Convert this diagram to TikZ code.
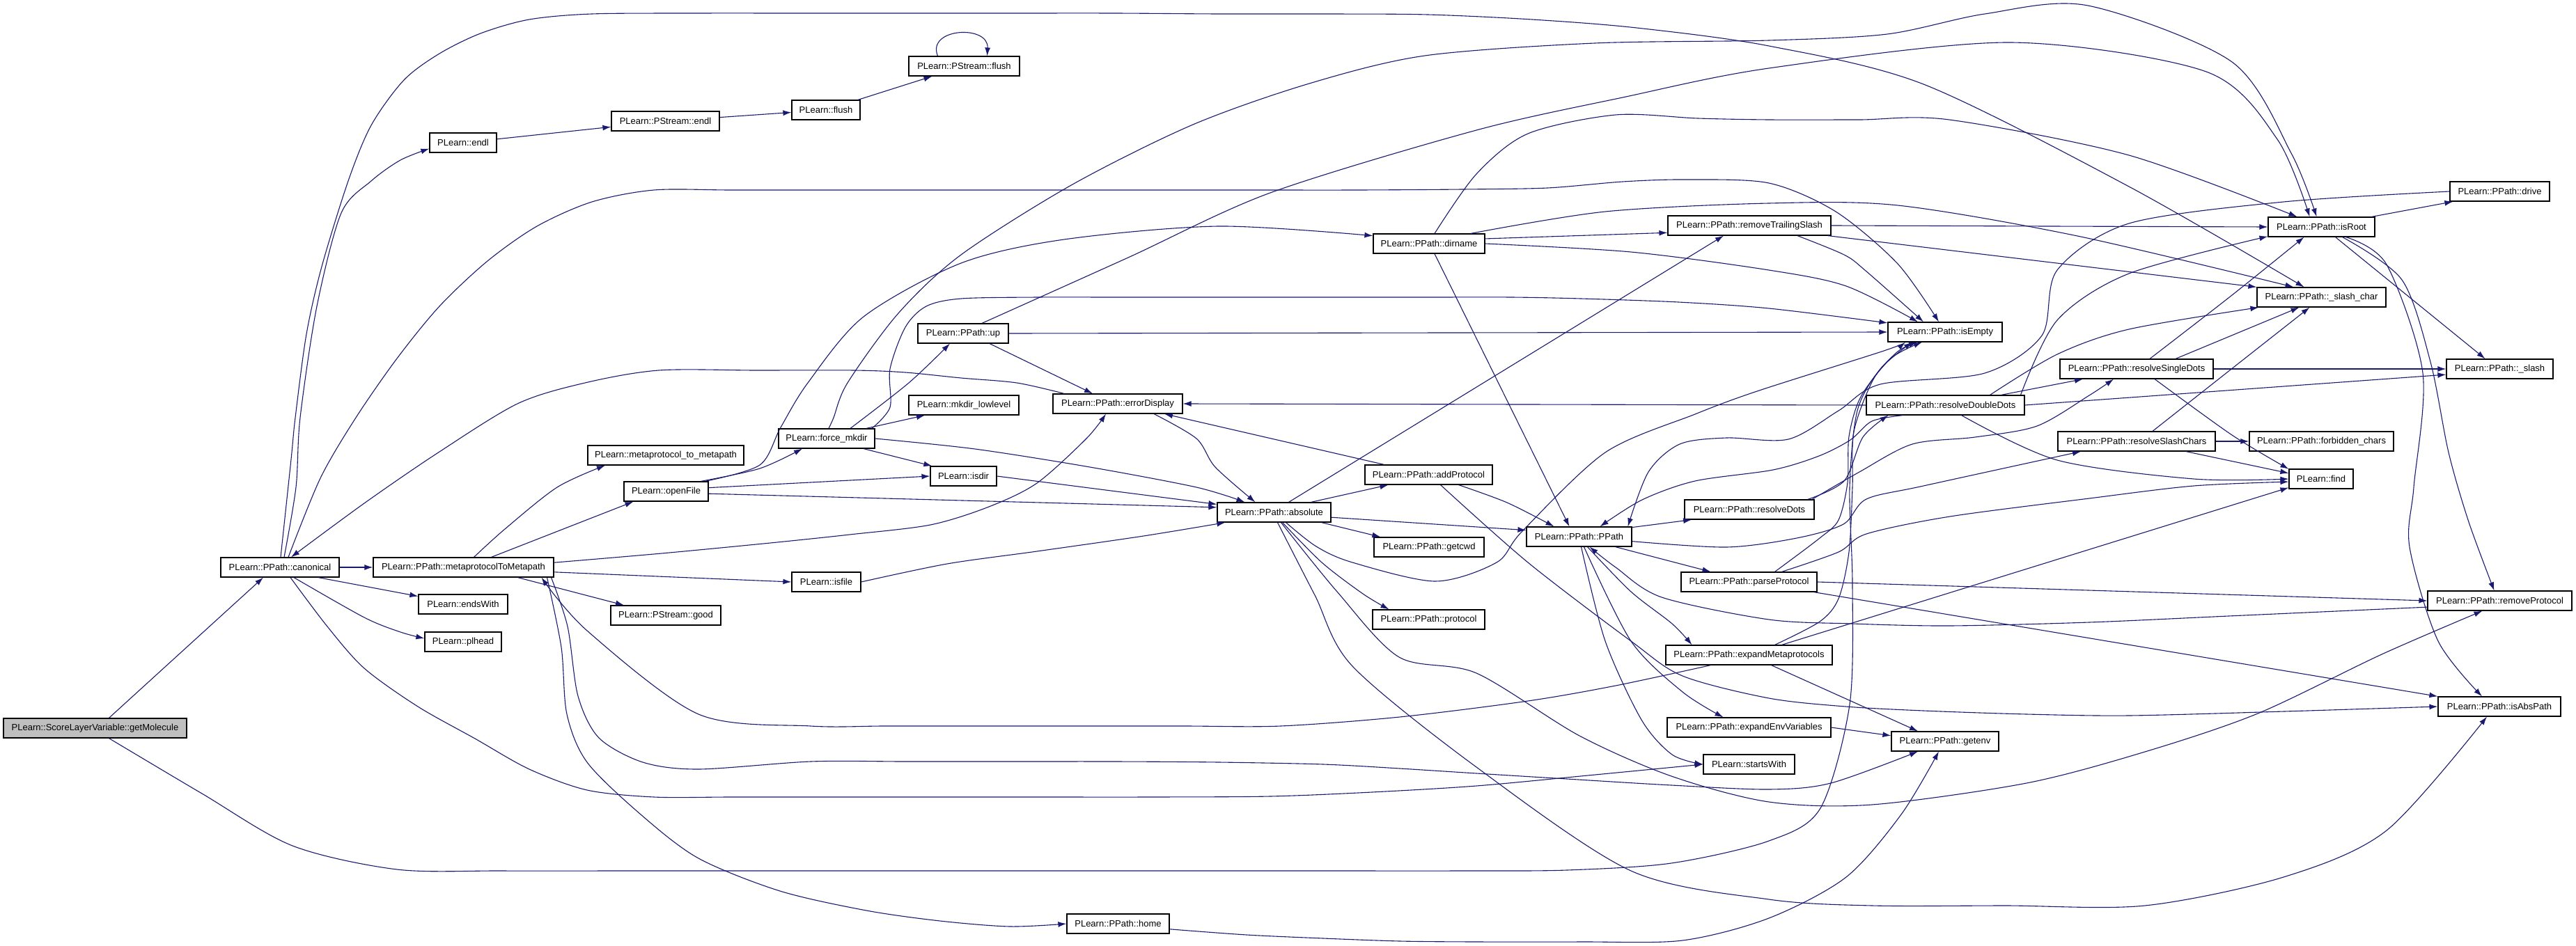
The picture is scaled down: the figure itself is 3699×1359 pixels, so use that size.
\documentclass[tikz,border=0pt]{standalone}
\usepackage{fontspec}
\setmainfont{Liberation Sans}
\usetikzlibrary{arrows.meta}
\definecolor{callblue}{HTML}{191970}

\begin{document}
\begin{tikzpicture}[x=1pt, y=-1pt,
  fn/.style={draw=black, line width=1.2pt, fill=white, minimum height=28pt, inner sep=0pt, font=\fontsize{13}{15}\selectfont},
  rootfn/.style={fn, fill=black!25},
  call/.style={draw=callblue, line width=1.1pt, -{Latex[length=12pt,width=8pt]}}]
\useasboundingbox (0,0) rectangle (3699,1359);

% functions, one column per call depth
\node[rootfn, minimum width=263] (getMolecule) at (136.5,1046) {PLearn::ScoreLayerVariable::getMolecule};
\node[fn, minimum width=170] (canonical) at (402,815) {PLearn::PPath::canonical};
\node[fn, minimum width=259] (metaToMeta) at (665.5,815) {PLearn::PPath::metaprotocolToMetapath};
\node[fn, minimum width=128] (endsWith) at (665,868) {PLearn::endsWith};
\node[fn, minimum width=110] (plhead) at (665,922) {PLearn::plhead};
\node[fn, minimum width=96] (endlFn) at (665,205) {PLearn::endl};
\node[fn, minimum width=155] (streamEndl) at (955.5,174) {PLearn::PStream::endl};
\node[fn, minimum width=98] (flushFn) at (1186,158) {PLearn::flush};
\node[fn, minimum width=159] (streamFlush) at (1384.5,95) {PLearn::PStream::flush};
\node[fn, minimum width=224] (metaMap) at (956,654) {PLearn::metaprotocol\_to\_metapath};
\node[fn, minimum width=121] (openFile) at (956.5,706) {PLearn::openFile};
\node[fn, minimum width=158] (streamGood) at (956,884) {PLearn::PStream::good};
\node[fn, minimum width=138] (forceMkdir) at (1187,630) {PLearn::force\_mkdir};
\node[fn, minimum width=99] (isfile) at (1186.5,836) {PLearn::isfile};
\node[fn, minimum width=147] (home) at (1605.5,1327) {PLearn::PPath::home};
\node[fn, minimum width=158] (mkdirLow) at (1384,582) {PLearn::mkdir\_lowlevel};
\node[fn, minimum width=95] (isdir) at (1383.5,684) {PLearn::isdir};
\node[fn, minimum width=130] (up) at (1383,479) {PLearn::PPath::up};
\node[fn, minimum width=186] (errorDisplay) at (1605,580) {PLearn::PPath::errorDisplay};
\node[fn, minimum width=163] (absolute) at (1829.5,736) {PLearn::PPath::absolute};
\node[fn, minimum width=160] (dirname) at (2052,350) {PLearn::PPath::dirname};
\node[fn, minimum width=183] (addProtocol) at (2051.5,682) {PLearn::PPath::addProtocol};
\node[fn, minimum width=158] (getcwd) at (2052,786) {PLearn::PPath::getcwd};
\node[fn, minimum width=161] (protocol) at (2051.5,890) {PLearn::PPath::protocol};
\node[fn, minimum width=151] (ppath) at (2267.5,771) {PLearn::PPath::PPath};
\node[fn, minimum width=234] (removeTrailing) at (2512,324) {PLearn::PPath::removeTrailingSlash};
\node[fn, minimum width=186] (resolveDots) at (2512,732) {PLearn::PPath::resolveDots};
\node[fn, minimum width=195] (parseProtocol) at (2511.5,836) {PLearn::PPath::parseProtocol};
\node[fn, minimum width=239] (expandMeta) at (2511.5,941) {PLearn::PPath::expandMetaprotocols};
\node[fn, minimum width=235] (expandEnv) at (2511.5,1045) {PLearn::PPath::expandEnvVariables};
\node[fn, minimum width=131] (startsWith) at (2511.5,1098) {PLearn::startsWith};
\node[fn, minimum width=164] (isEmpty) at (2793,477) {PLearn::PPath::isEmpty};
\node[fn, minimum width=227] (resolveDouble) at (2793.5,582) {PLearn::PPath::resolveDoubleDots};
\node[fn, minimum width=154] (getenv) at (2793,1065) {PLearn::PPath::getenv};
\node[fn, minimum width=153] (isRoot) at (3333.5,326) {PLearn::PPath::isRoot};
\node[fn, minimum width=185] (slashChar) at (3333.5,427) {PLearn::PPath::\_slash\_char};
\node[fn, minimum width=220] (resolveSingle) at (3068,530) {PLearn::PPath::resolveSingleDots};
\node[fn, minimum width=226] (resolveSlash) at (3068,634) {PLearn::PPath::resolveSlashChars};
\node[fn, minimum width=207] (forbidden) at (3333.5,634) {PLearn::PPath::forbidden\_chars};
\node[fn, minimum width=92] (find) at (3333,688) {PLearn::find};
\node[fn, minimum width=143] (drive) at (3589.5,275) {PLearn::PPath::drive};
\node[fn, minimum width=153] (slash) at (3589.5,530) {PLearn::PPath::\_slash};
\node[fn, minimum width=207] (removeProtocol) at (3589.5,863) {PLearn::PPath::removeProtocol};
\node[fn, minimum width=176] (isAbsPath) at (3589,1015) {PLearn::PPath::isAbsPath};

% getMolecule
\draw[call] ([xshift=20]getMolecule.north) -- ([xshift=-24]canonical.south);
\draw[call] plot[smooth] coordinates {([xshift=20]getMolecule.south) (290,1140) (420,1215) (570,1249) (720,1251) (900,1251) (1100,1251) (1300,1251) (1500,1251) (1700,1251) (1900,1251) (2100,1251) (2250,1250) (2400,1240) (2540,1208) (2614,1161) (2656,1012) (2660,840) (2656,700) (2667,590) (2700,530) ([xshift=-47]isEmpty.south)};

% canonical
\draw[call] (canonical) -- (metaToMeta);
\draw[call] ([xshift=55]canonical.south) -- (endsWith.170);
\draw[call] plot[smooth] coordinates {([xshift=20]canonical.south) (523,887) (575,908) (plhead.175)};
\draw[call] plot[smooth] coordinates {([xshift=6]canonical.north) (425,700) (431,600) (455,440) (490,306) (533,260) (575,230) (endlFn.190)};
\draw[call] plot[smooth] coordinates {([xshift=1]canonical.north) (418,660) (424,600) (440,480) (462,383) (500,260) (533,180) (580,115) (631,77) (690,48) (760,28) (850,20) (1000,19) (1150,19) (1300,19) (1450,19) (1600,19) (1750,20) (1900,20) (2050,21) (2200,28) (2350,40) (2540,66) (2762,121) (3057,268) ([xshift=-25]slashChar.north)};
\draw[call] plot[smooth] coordinates {([xshift=12]canonical.north) (460,687) (511,600) (570,515) (631,440) (700,375) (771,325) (850,290) (939,273) (1050,273) (1200,273) (1350,273) (1500,273) (1650,273) (1800,273) (1950,273) (2100,272) (2222,270) (2330,261) (2420,258) (2540,263) (2636,304) (2725,379) ([xshift=-9]isEmpty.north)};
\draw[call] plot[smooth] coordinates {([xshift=15]canonical.south) (470,900) (523,960) (600,1015) (682,1061) (760,1105) (843,1135) (939,1145) (1050,1145) (1200,1145) (1350,1145) (1500,1145) (1650,1145) (1824,1144) (1970,1138) (2120,1129) (2280,1114) (startsWith.west)};
\draw[call] plot[smooth] coordinates {([xshift=-77]errorDisplay.north) (1460,550) (1380,543) (1300,535) (1227,532) (1087,532) (946,532) (840,550) (743,580) (628,651) (523,723) ([xshift=16]canonical.north)};

% stream output
\draw[call] (endlFn) -- (streamEndl);
\draw[call] (streamEndl) -- (flushFn);
\draw[call] (flushFn) -- (streamFlush);
\draw[call] ([xshift=-38]streamFlush.north) .. controls (1330,40) and (1420,35) .. ([xshift=33]streamFlush.north);

% metaprotocolToMetapath
\draw[call] plot[smooth] coordinates {([xshift=15]metaToMeta.north) (725,760) (800,700) ([xshift=-87]metaMap.south)};
\draw[call] ([xshift=40]metaToMeta.north) -- ([xshift=-47]openFile.south);
\draw[call] (metaToMeta.-3) -- (isfile.west);
\draw[call] ([xshift=78]metaToMeta.south) -- ([xshift=-60]streamGood.north);
\draw[call] plot[smooth] coordinates {(metaToMeta.3) (950,795) (1106,780) (1220,768) (1336,754) (1420,728) (1489,694) (1560,630) ([xshift=-17]errorDisplay.south)};
\draw[call] plot[smooth] coordinates {([xshift=120]metaToMeta.south) (806,930) (814,1026) (843,1095) (920,1170) (1003,1233) (1120,1280) (1244,1308) (1350,1323) (1450,1331) (home.west)};
\draw[call] plot[smooth] coordinates {([xshift=126]metaToMeta.south) (815,900) (830,1000) (860,1060) (923,1095) (1003,1105) (1164,1094) (1300,1094) (1450,1094) (1600,1094) (1750,1095) (1900,1098) (2010,1104) (2120,1111) (2250,1119) (2400,1128) (2540,1134) (2629,1125) ([xshift=-39]getenv.south)};
\draw[call] plot[smooth] coordinates {([xshift=-55]expandMeta.south) (2320,985) (2194,1007) (2010,1030) (1839,1043) (1700,1043) (1550,1043) (1400,1043) (1270,1043) (1164,1043) (1003,1026) (843,906) ([xshift=112]metaToMeta.south)};

% openFile
\draw[call] plot[smooth] coordinates {([xshift=50]openFile.north) (1091,673) ([xshift=-35]forceMkdir.south)};
\draw[call] (openFile.5) -- (isdir.west);
\draw[call] (openFile.-3) -- (absolute.175);
\draw[call] plot[smooth] coordinates {([xshift=56]openFile.north) (1091,668) (1121,614) (1160,550) (1240,455) (1380,378) (1528,344) (1750,325) (dirname.172)};

% force_mkdir
\draw[call] ([xshift=57]forceMkdir.north) -- ([xshift=-56]mkdirLow.south);
\draw[call] ([xshift=53]forceMkdir.south) -- ([xshift=3]isdir.north west);
\draw[call] plot[smooth] coordinates {(forceMkdir.east) (1400,645) (1565,671) (1718,700) ([xshift=-42]absolute.north)};
\draw[call] plot[smooth] coordinates {([xshift=34]forceMkdir.north) (1305,550) ([xshift=-19]up.south)};
\draw[call] plot[smooth] coordinates {([xshift=3]forceMkdir.north) (1197,600) (1217,550) (1290,450) (1380,366) (1540,265) (1713,179) (1880,120) (2046,80) (2290,62) (2540,58) (2710,49) (2850,20) (2998,8) (3205,89) (3290,220) ([xshift=-7]isRoot.north)};
\draw[call] plot[smooth] coordinates {([xshift=65]forceMkdir.north) (1278,585) (1278,530) (1300,470) (1330,440) (1380,429) (1490,427) (1600,427) (1750,427) (1900,427) (2050,427) (2170,427) (2270,429) (2410,434) (2540,443) (isEmpty.171)};

% isdir, isfile, up
\draw[call] (isdir.east) -- (absolute.172);
\draw[call] plot[smooth] coordinates {(isfile.east) (1360,810) (1489,792) (1642,770) ([xshift=12]absolute.south west)};
\draw[call] ([xshift=38]up.south) -- ([xshift=-36]errorDisplay.north);
\draw[call] (up.east) -- (isEmpty.west);
\draw[call] plot[smooth] coordinates {([xshift=27]up.north) (1620,370) (1824,277) (2120,187) (2330,140) (2540,98) (2887,61) (3168,103) (3270,200) ([xshift=-17]isRoot.north)};

% errorDisplay
\draw[call] plot[smooth] coordinates {([xshift=52]errorDisplay.south) (1718,630) (1745,671) ([xshift=-27]absolute.north)};

% absolute
\draw[call] ([xshift=53]absolute.north) -- ([xshift=-58]addProtocol.south);
\draw[call] ([xshift=68]absolute.south) -- ([xshift=10]getcwd.north west);
\draw[call] plot[smooth] coordinates {([xshift=12]absolute.south) (1898,808) (1957,853) ([xshift=-57]protocol.north)};
\draw[call] (absolute.-5) -- (ppath.173);
\draw[call] ([xshift=21]absolute.north) -- ([xshift=-37]removeTrailing.south);
\draw[call] plot[smooth] coordinates {([xshift=17]absolute.south) (1890,785) (1942,808) (2061,835) (2149,808) (2186,763) (2305,650) (2434,595) (2523,562) (2702,505) ([xshift=-57]isEmpty.south)};
\draw[call] plot[smooth] coordinates {([xshift=10]absolute.south) (1920,850) (2009,944) (2120,967) (2268,1057) (2400,1115) (2540,1152) (2688,1156) (2910,1125) (3080,1080) (3242,1025) (3420,940) ([xshift=-25]removeProtocol.south)};
\draw[call] plot[smooth] coordinates {([xshift=5]absolute.south) (1888,855) (1942,957) (2120,1102) (2342,1251) (2540,1292) (2688,1301) (2880,1301) (3080,1301) (3279,1260) (3427,1193) ([xshift=-18]isAbsPath.south)};

% addProtocol
\draw[call] ([xshift=-64]addProtocol.north) -- ([xshift=67]errorDisplay.south);
\draw[call] plot[smooth] coordinates {([xshift=43]addProtocol.south) (2164,722) ([xshift=-36]ppath.north)};
\draw[call] plot[smooth] coordinates {([xshift=17]addProtocol.south) (2194,808) (2342,921) (2416,971) (2540,1003) (2650,1015) (2762,1021) (2910,1026) (3057,1028) (3280,1022) (isAbsPath.west)};

% dirname
\draw[call] (dirname.5) -- (removeTrailing.185);
\draw[call] plot[smooth] coordinates {([xshift=8]dirname.north) (2120,250) (2194,192) (2320,165) (2438,170) (2540,172) (2670,172) (2799,172) (3057,223) ([xshift=-35]isRoot.north)};
\draw[call] plot[smooth] coordinates {([xshift=60]dirname.north) (2305,304) (2540,292) (2725,295) (2983,339) ([xshift=-40]slashChar.north)};
\draw[call] plot[smooth] coordinates {(dirname.east) (2342,362) (2540,388) (2651,411) ([xshift=-39]isEmpty.north)};
\draw[call] ([xshift=8]dirname.south) -- ([xshift=-14]ppath.north);

% removeTrailingSlash
\draw[call] (removeTrailing.east) -- (isRoot.west);
\draw[call] ([xshift=-5]removeTrailing.south east) -- (slashChar.north west);
\draw[call] plot[smooth] coordinates {([xshift=69]removeTrailing.south) (2648,366) (2679,389) ([xshift=-31]isEmpty.north)};

% PPath constructor
\draw[call] (ppath.10) -- (resolveDots.190);
\draw[call] ([xshift=52]ppath.south) -- ([xshift=-55]parseProtocol.north);
\draw[call] plot[smooth] coordinates {([xshift=12]ppath.south) (2342,850) (2401,896) ([xshift=-82]expandMeta.north)};
\draw[call] plot[smooth] coordinates {([xshift=7]ppath.south) (2342,921) (2416,994) ([xshift=-37]expandEnv.north)};
\draw[call] plot[smooth] coordinates {([xshift=3]ppath.south) (2305,921) (2357,1034) (2401,1084) (startsWith.west)};
\draw[call] plot[smooth] coordinates {(ppath.-5) (2479,786) (2580,773) (2647,753) (2680,717) (2762,698) ([xshift=-80]resolveSlash.south)};

% resolveDots
\draw[call] plot[smooth] coordinates {([xshift=84]resolveDots.north) (2648,691) (2675,628) ([xshift=-82]resolveDouble.south)};
\draw[call] plot[smooth] coordinates {([xshift=90]resolveDots.north) (2670,678) (2746,638) (2836,628) (2925,612) (3000,568) ([xshift=-33]resolveSingle.south)};

% resolveDoubleDots
\draw[call] (resolveDouble.west) -- (errorDisplay.east);
\draw[call] ([xshift=80]resolveDouble.north) -- ([xshift=-77]resolveSingle.south);
\draw[call] plot[smooth] coordinates {([xshift=64]resolveDouble.north) (2954,509) (3057,473) ([xshift=3]slashChar.south west)};
\draw[call] plot[smooth] coordinates {([xshift=108]resolveDouble.north) (2954,460) (3057,393) (isRoot.190)};
\draw[call] (resolveDouble.east) -- (slash.186);
\draw[call] plot[smooth] coordinates {([xshift=23]resolveDouble.south) (2954,661) (3150,688) (find.west)};
\draw[call] plot[smooth] coordinates {([xshift=-61]resolveDouble.south) (2688,605) (2657,632) (2612,655) (2546,675) (2434,691) (2358,718) ([xshift=30]ppath.north)};

% resolveSingleDots
\draw[call] plot[smooth] coordinates {([xshift=19]resolveSingle.north) (3205,424) ([xshift=-25]isRoot.south)};
\draw[call] ([xshift=56]resolveSingle.north) -- ([xshift=-32]slashChar.south);
\draw[call] (resolveSingle.east) -- (slash.west);
\draw[call] plot[smooth] coordinates {([xshift=26]resolveSingle.south) (3205,625) (find.163)};

% resolveSlashChars
\draw[call] (resolveSlash) -- (forbidden);
\draw[call] ([xshift=71]resolveSlash.south) -- (find.170);
\draw[call] plot[smooth] coordinates {([xshift=23]resolveSlash.north) (3203,531) ([xshift=-17]slashChar.south)};

% isRoot
\draw[call] ([xshift=-5]isRoot.north east) -- ([xshift=5]drive.south west);
\draw[call] ([xshift=20]isRoot.south) -- ([xshift=-21]slash.north);
\draw[call] plot[smooth] coordinates {([xshift=30]isRoot.south) (3449,402) (3490,520) (3516,650) (3545,750) ([xshift=-8]removeProtocol.north)};
\draw[call] plot[smooth] coordinates {([xshift=35]isRoot.south) (3427,380) (3479,536) (3466,700) (3460,786) (3501,921) ([xshift=-25]isAbsPath.north)};
\draw[call] plot[smooth] coordinates {(drive.west) (3279,290) (3057,321) (2954,388) (2932,482) (2850,536) (2700,552) (2640,590) (2568,631) (2479,629) (2412,638) (2367,678) ([xshift=70]ppath.north)};

% parseProtocol
\draw[call] (parseProtocol.east) -- (removeProtocol.west);
\draw[call] ([xshift=-5]parseProtocol.south east) -- (isAbsPath.north west);
\draw[call] plot[smooth] coordinates {([xshift=47]parseProtocol.north) (2640,793) (2680,767) (2800,742) (3000,716) (3150,698) (find.185)};
\draw[call] plot[smooth] coordinates {([xshift=37]parseProtocol.north) (2613,773) (2640,747) (2653,693) (2655,627) (2672,570) (2715,515) ([xshift=-33]isEmpty.south)};
\draw[call] plot[smooth] coordinates {(removeProtocol.185) (3200,885) (3000,894) (2799,899) (2660,896) (2540,890) (2386,858) (2320,815) ([xshift=15]ppath.south)};

% expandMetaprotocols, expandEnvVariables, home
\draw[call] ([xshift=47]expandMeta.north) -- (find.195);
\draw[call] ([xshift=32]expandMeta.south) -- ([xshift=-39]getenv.north);
\draw[call] plot[smooth] coordinates {([xshift=37]expandMeta.north) (2613,893) (2640,860) (2655,793) (2660,700) (2662,620) (2690,545) (2725,505) ([xshift=-40]isEmpty.south)};
\draw[call] (expandEnv.east) -- (getenv.174);
\draw[call] plot[smooth] coordinates {(home.-6) (1790,1343) (1900,1348) (2010,1352) (2120,1353) (2270,1353) (2416,1351) (2540,1319) (2651,1260) (2730,1170) ([xshift=-9]getenv.south)};
\end{tikzpicture}
\end{document}
